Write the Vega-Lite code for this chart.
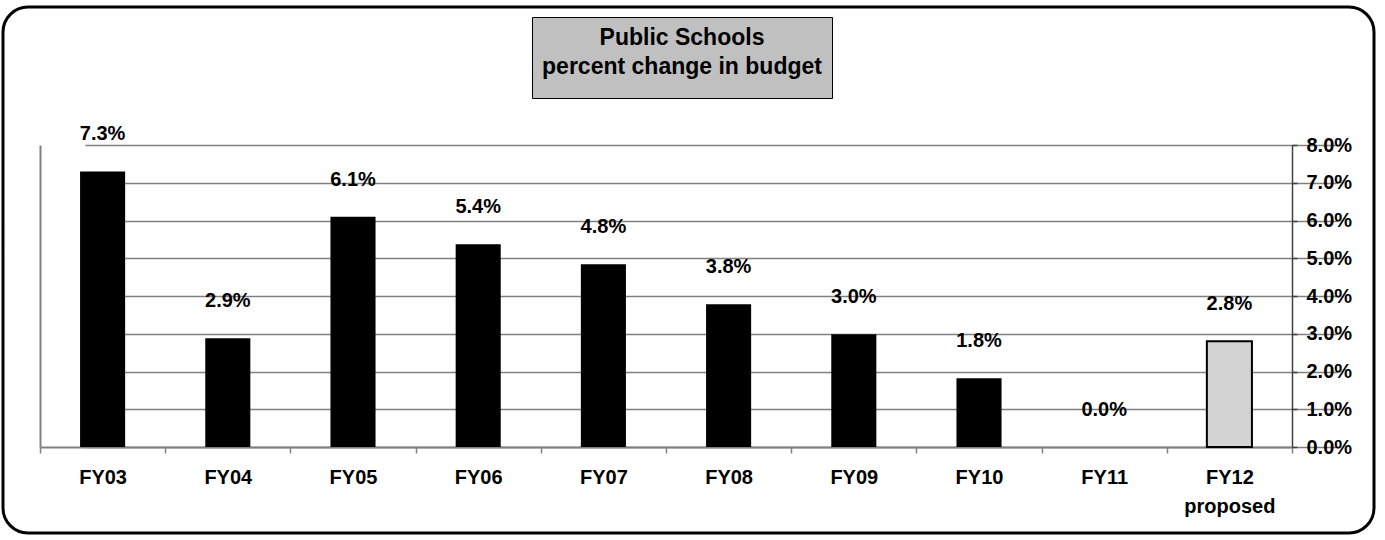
{
  "$schema": "https://vega.github.io/schema/vega-lite/v6.json",
  "autosize": "none",
  "width": 1371,
  "height": 526,
  "padding": {"left": 3, "top": 7, "right": 11, "bottom": 7},
  "background": "white",
  "config": {
    "font": "Liberation Sans",
    "view": {"stroke": "black", "strokeWidth": 3, "cornerRadius": 25, "fill": "white"}
  },
  "data": {
    "values": [
      {"year": "FY03", "value": 7.3, "label": "7.3%", "series": "budget"},
      {"year": "FY04", "value": 2.88, "label": "2.9%", "series": "budget"},
      {"year": "FY05", "value": 6.1, "label": "6.1%", "series": "budget"},
      {"year": "FY06", "value": 5.37, "label": "5.4%", "series": "budget"},
      {"year": "FY07", "value": 4.84, "label": "4.8%", "series": "budget"},
      {"year": "FY08", "value": 3.78, "label": "3.8%", "series": "budget"},
      {"year": "FY09", "value": 2.99, "label": "3.0%", "series": "budget"},
      {"year": "FY10", "value": 1.82, "label": "1.8%", "series": "budget"},
      {"year": "FY11", "value": 0, "label": "0.0%", "series": "budget"},
      {"year": "FY12 proposed", "value": 2.8, "label": "2.8%", "series": "budget"}
    ]
  },
  "resolve": {"axis": {"y": "independent"}},
  "layer": [
    {
      "mark": {"type": "bar", "width": {"band": 0.36}, "stroke": "black"},
      "encoding": {
        "x": {
          "field": "year", "type": "nominal", "sort": null,
          "scale": {"range": [37, 1289], "paddingInner": 0, "paddingOuter": 0},
          "axis": {
            "orient": "bottom", "offset": -86, "title": null, "grid": false,
            "domainColor": "#808080", "domainWidth": 2,
            "tickColor": "#808080", "tickWidth": 1.5, "tickSize": 6, "tickBand": "extent",
            "labelFont": "Liberation Sans", "labelFontSize": 20, "labelFontWeight": "bold", "labelColor": "black",
            "labelPadding": 14, "labelAngle": 0, "labelLineHeight": 29, "labelBaseline": "top",
            "labelExpr": "datum.value == 'FY12 proposed' ? ['FY12', 'proposed'] : datum.value"
          }
        },
        "y": {
          "field": "value", "type": "quantitative",
          "scale": {"domain": [0, 8], "range": [440, 138], "nice": false, "zero": true},
          "axis": {
            "orient": "right", "offset": -82, "title": null,
            "values": [0, 1, 2, 3, 4, 5, 6, 7, 8],
            "labelExpr": "format(datum.value, '.1f') + '%'",
            "grid": true, "gridColor": "#808080", "gridWidth": 1.6,
            "domainColor": "#404040", "domainWidth": 1.5,
            "tickColor": "#404040", "tickWidth": 1.5, "tickSize": 5,
            "labelFont": "Liberation Sans", "labelFontSize": 20, "labelFontWeight": "bold", "labelColor": "black",
            "labelPadding": 9, "labelAlign": "left"
          }
        },
        "fill": {
          "condition": {"test": "datum.year == 'FY12 proposed'", "value": "#d2d2d2"},
          "value": "black"
        },
        "strokeWidth": {
          "condition": {"test": "datum.year == 'FY12 proposed'", "value": 2},
          "value": 0
        }
      }
    },
    {
      "mark": {"type": "text", "font": "Liberation Sans", "fontSize": 20, "fontWeight": "bold", "baseline": "middle", "dy": -37},
      "encoding": {
        "x": {"field": "year", "type": "nominal", "sort": null},
        "y": {
          "field": "value", "type": "quantitative",
          "axis": {
            "orient": "left", "offset": -37, "title": null, "labels": false, "ticks": false, "grid": false,
            "domainColor": "#808080", "domainWidth": 2
          }
        },
        "text": {"field": "label"},
        "color": {
          "field": "series", "type": "nominal",
          "scale": {"range": ["black"]},
          "legend": {
            "orient": "none", "legendX": 529, "legendY": 10,
            "title": ["Public Schools", "percent change in budget"],
            "titleFont": "Liberation Sans", "titleFontSize": 23, "titleFontWeight": "bold", "titleColor": "black",
            "titleAnchor": "middle", "titleAlign": "center", "titlePadding": 8, "titleLimit": 0, "titleLineHeight": 29,
            "labelExpr": "''", "labelFontSize": 1, "labelLimit": 0, "labelOffset": 0,
            "symbolSize": 0, "symbolOpacity": 0, "symbolStrokeWidth": 0,
            "fillColor": "#c0c0c0", "strokeColor": "black", "padding": 10
          }
        }
      }
    }
  ]
}
